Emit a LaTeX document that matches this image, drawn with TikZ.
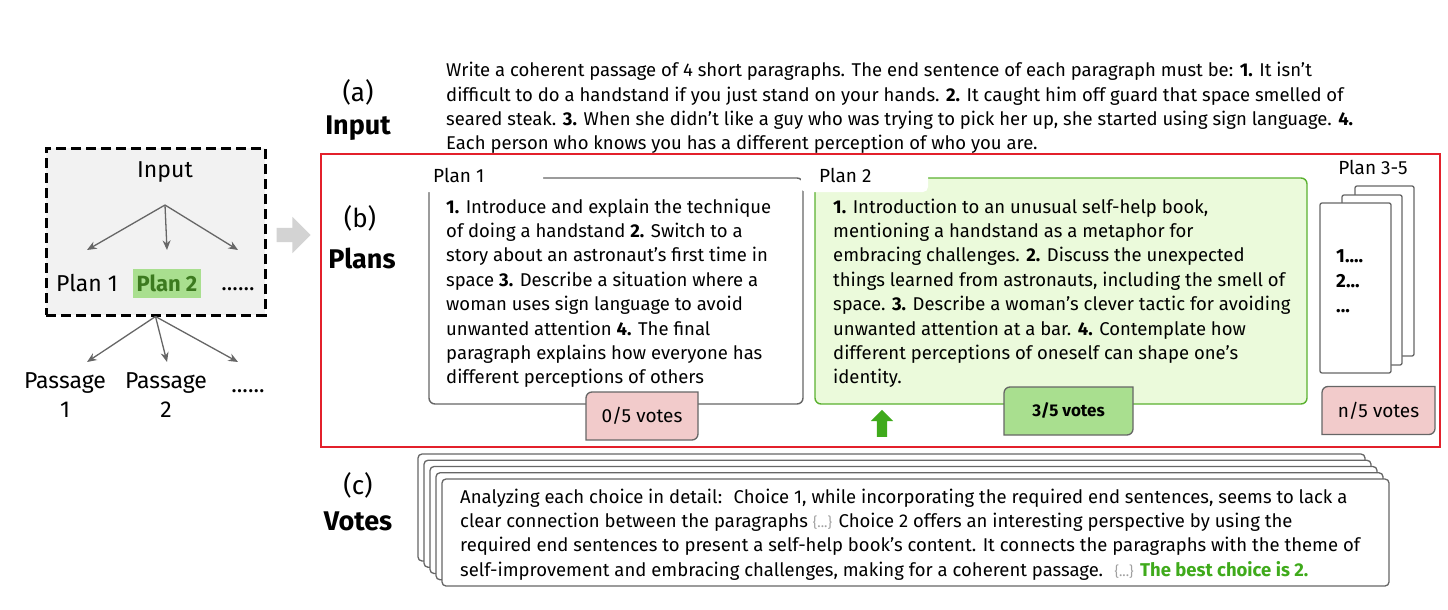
\documentclass[tikz,border=0pt]{standalone}
\usepackage{fontspec}
\setmainfont{Fira Sans}
\usetikzlibrary{arrows.meta,positioning,shapes.arrows}
\definecolor{linegray}{HTML}{666666}
\definecolor{panelgray}{HTML}{F2F2F2}
\definecolor{hintgray}{HTML}{D3D3D3}
\definecolor{framered}{HTML}{E3202B}
\definecolor{plangreen}{HTML}{5AB12F}
\definecolor{planfill}{HTML}{EBFADB}
\definecolor{votegreen}{HTML}{A9DF8F}
\definecolor{textgreen}{HTML}{3C7A1F}
\definecolor{bestgreen}{HTML}{3FAA1B}
\definecolor{votepink}{HTML}{F2CBCB}
\definecolor{bracegray}{HTML}{A0A0A0}
\tikzset{
  card/.style={draw=linegray,line width=1.4pt,rounded corners=6pt,fill=white},
  link/.style={-{Stealth[length=3.4mm,width=2.8mm]},line width=1.3pt,color=linegray},
}

\begin{document}
\begin{tikzpicture}[x=1pt,y=-1pt,
  body/.style={font={\fontsize{18.5}{24.4}\selectfont},align=left,inner sep=0pt,anchor=north west},
  tag/.style={font={\fontsize{26}{28}\selectfont}},
  tagb/.style={font={\fontsize{27}{28}\selectfont\bfseries}},
  side/.style={font={\fontsize{23}{29}\selectfont},align=center,inner sep=1pt},
  tabtxt/.style={font={\fontsize{19}{22}\selectfont},inner sep=0pt},
  page/.style={draw=linegray,line width=1.3pt,fill=white,rounded corners=2pt},
  votes/.style={font={\fontsize{19}{20}\selectfont}}]
  \useasboundingbox (0,0) rectangle (1448,610);
  % overview on the left
  \node[draw=black,line width=3pt,dash pattern=on 10pt off 5pt,fill=panelgray,
        minimum width=219pt,minimum height=167pt,inner sep=0pt] (overview) at (155.5,231.5) {};
  \node[side] (ovin) at (165,172) {Input};
  \coordinate (fork) at (165,205);
  \coordinate (row1) at (0,250);
  \coordinate (row2) at (0,362);
  \node[side] (ovp1) at (87,283) {Plan 1};
  \node[side,fill=votegreen,text=textgreen,font={\fontsize{22}{29}\selectfont\bfseries},
        minimum width=68pt,minimum height=29pt] (ovp2) at (167,283.5) {Plan 2};
  \node[side] (ovdots) at (238,289) {......};
  \foreach \n in {ovp1,ovp2,ovdots} {
    \draw[link] (fork) -- (\n |- row1);
    \draw[link] (overview.south) -- (\n |- row2);
  }
  \node[side] (pass1) at (65,395) {Passage\\1};
  \node[side] (pass2) at (166,395) {Passage\\2};
  \node[side] (passdots) at (248,391) {......};
  \node[single arrow,fill=hintgray,minimum height=34pt,inner sep=7pt,
        single arrow head extend=11pt] (hint) at (290,235) {};
  % stage labels
  \node[tag] (la) at (358,92) {(a)};
  \node[tagb] (lin) at (358,128) {Input};
  \node[tag] (lb) at (360,218) {(b)};
  \node[tagb] (lpl) at (362,258) {Plans};
  \node[tag] (lc) at (358,485) {(c)};
  \node[tagb] (lvo) at (358,521) {Votes};
  % (a) input
  \node[body] (prompt) at (446,62) {Write a coherent passage of 4 short paragraphs. The end sentence of each paragraph must be: \textbf{1.} It isn't\\
    difficult to do a handstand if you just stand on your hands. \textbf{2.} It caught him off guard that space smelled of\\
    seared steak. \textbf{3.} When she didn’t like a guy who was trying to pick her up, she started using sign language. \textbf{4.}\\
    Each person who knows you has a different perception of who you are.};
  % (b) plans
  \draw[framered,line width=1.5pt] (321,154) rectangle (1440,447);
  \node[card,minimum width=374pt,minimum height=226pt] (card1) at (616,291) {};
  \node[card,draw=plangreen,fill=planfill,minimum width=492pt,minimum height=226pt] (card2) at (1061,291) {};
  \fill[white,rounded corners=5pt] (420,160) rectangle (543,192);
  \fill[white,rounded corners=5pt] (801,160) rectangle (928,192);
  \node[tabtxt,anchor=west] (name1) at (433,175) {Plan 1};
  \node[tabtxt,anchor=west] (name2) at (819,175) {Plan 2};
  \node[tabtxt] (name3) at (1373,167) {Plan 3-5};
  \node[body] (plan1) at (446,198.5) {\textbf{1.} Introduce and explain the technique\\
    of doing a handstand \textbf{2.} Switch to a\\
    story about an astronaut's first time in\\
    space \textbf{3.} Describe a situation where a\\
    woman uses sign language to avoid\\
    unwanted attention \textbf{4.} The final\\
    paragraph explains how everyone has\\
    different perceptions of others};
  \node[body] (plan2) at (833,198.5) {\textbf{1.} Introduction to an unusual self-help book,\\
    mentioning a handstand as a metaphor for\\
    embracing challenges. \textbf{2.} Discuss the unexpected\\
    things learned from astronauts, including the smell of\\
    space. \textbf{3.} Describe a woman's clever tactic for avoiding\\
    unwanted attention at a bar. \textbf{4.} Contemplate how\\
    different perceptions of oneself can shape one's\\
    identity.};
  \foreach \x/\y/\w in {1355/186/59,1342/195/60,1320/203/71}
    \draw[page] (\x,\y) rectangle ++(\w,170);
  \node[body,font={\fontsize{19}{25}\selectfont\bfseries}] (rest) at (1336,249) {1....\\2...\\...};
  % vote badges
  \foreach \cx/\cy/\hw/\col in {642/416/56/votepink,1068.5/411/64.5/votegreen,1378.5/410.5/56.5/votepink}
    \filldraw[draw=linegray,fill=\col,line width=1.3pt]
      (\cx-\hw+6,\cy-24) -- (\cx+\hw,\cy-24) -- (\cx+\hw,\cy+18)
      arc[start angle=0,end angle=-90,radius=6pt] -- (\cx-\hw,\cy+24) -- (\cx-\hw,\cy-18)
      arc[start angle=180,end angle=90,radius=6pt] -- cycle;
  \node[votes] (vote1) at (642,416) {0/5 votes};
  \node[votes,font={\fontsize{17}{20}\selectfont\bfseries}] (vote2) at (1068.5,411) {3/5 votes};
  \node[votes] (vote3) at (1378.5,410.5) {n/5 votes};
  \node[single arrow,shape border rotate=90,fill=bestgreen,inner sep=5pt,minimum height=27pt,
        single arrow head extend=6pt] (pick) at (882,426) {};
  % (c) votes
  \foreach \i in {4,3,2,1,0}
    \draw[card,line width=1.3pt,rounded corners=4pt] (442-6*\i,479-6.25*\i) rectangle ++(947,107);
  \node[body] (reason) at (460,488.5) {Analyzing each choice in detail: \ Choice 1, while incorporating the required end sentences, seems to lack a\\
    clear connection between the paragraphs \textcolor{bracegray}{\fontsize{14}{14}\selectfont\{...\}} Choice 2 offers an interesting perspective by using the\\
    required end sentences to present a self-help book's content. It connects the paragraphs with the theme of\\
    self-improvement and embracing challenges, making for a coherent passage. \ \textcolor{bracegray}{\fontsize{14}{14}\selectfont\{...\}} \textcolor{bestgreen}{\textbf{The best choice is 2.}}};
\end{tikzpicture}
\end{document}
